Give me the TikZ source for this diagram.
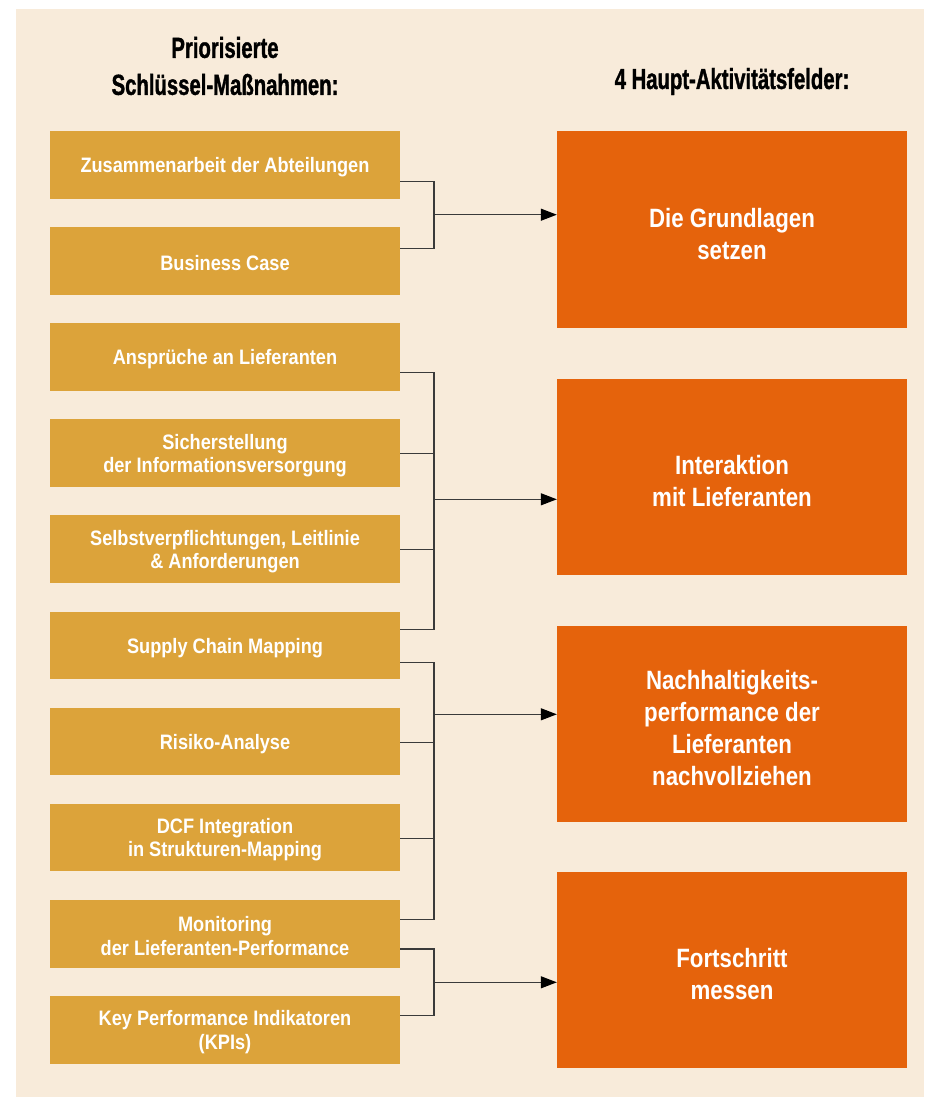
\documentclass[tikz,border=0pt]{standalone}
\usepackage{fontspec}
\setmainfont{Liberation Sans}
\newfontfamily\boxfont[FakeStretch=0.87]{Liberation Sans}
\newfontfamily\orfont[FakeStretch=0.84]{Liberation Sans}
\newfontfamily\titlefont[FakeStretch=0.70,FakeBold=1.2]{Liberation Sans}
\usetikzlibrary{arrows.meta}
\definecolor{bgbeige}{HTML}{F8EBDA}
\definecolor{gold}{HTML}{DCA33A}
\definecolor{orng}{HTML}{E5630C}
\definecolor{lnk}{HTML}{3A3A3A}
\newcommand\lstrut{\rule{0pt}{19.8pt}}
\newcommand\ostrut{\rule{0pt}{27.5pt}}
\begin{document}
\begin{tikzpicture}[x=1pt,y=-1pt,
  lbox/.style={fill=gold, minimum width=350pt, minimum height=67.7pt, inner sep=0pt, text=white,
    font={\boxfont\bfseries\fontsize{20.9pt}{23.3pt}\selectfont}, align=center},
  rbox/.style={fill=orng, minimum width=350pt, minimum height=196pt, inner sep=0pt, text=white,
    font={\orfont\bfseries\fontsize{26.5pt}{32pt}\selectfont}, align=center},
  title/.style={font={\titlefont\bfseries\fontsize{29pt}{37pt}\selectfont}, align=center, inner sep=0pt},
  link/.style={draw=lnk, line width=1.2pt},
  arr/.style={link, -{Triangle[length=16pt,width=12pt,color=black]}}
]
\useasboundingbox (0,0) rectangle (924,1097);
\fill[white] (0,0) rectangle (924,1097);
\fill[bgbeige] (15.5,9) rectangle (924,1097);

% titles
\node[title] (t1) at (225,66) {Priorisierte\\Schlüssel-Maßnahmen:};
\node[title, anchor=base] (t2) at (732,89) {4 Haupt-Aktivitätsfelder:};

% left boxes
\node[lbox] (l1) at (225,164.85) {\lstrut Zusammenarbeit der Abteilungen};
\node[lbox] (l2) at (225,260.95) {\lstrut Business Case};
\node[lbox] (l3) at (225,357.05) {\lstrut Ansprüche an Lieferanten};
\node[lbox] (l4) at (225,453.15) {\lstrut Sicherstellung\\der Informationsversorgung};
\node[lbox] (l5) at (225,549.25) {\lstrut Selbstverpflichtungen, Leitlinie\\\& Anforderungen};
\node[lbox] (l6) at (225,645.35) {\lstrut Supply Chain Mapping};
\node[lbox] (l7) at (225,741.45) {\lstrut Risiko-Analyse};
\node[lbox] (l8) at (225,837.55) {\lstrut DCF Integration\\in Strukturen-Mapping};
\node[lbox] (l9) at (225,933.65) {\lstrut Monitoring\\der Lieferanten-Performance};
\node[lbox] (l10) at (225,1029.75) {\lstrut Key Performance Indikatoren\\(KPIs)};

% right boxes
\node[rbox] (r1) at (732,229.5) {\ostrut Die Grundlagen\\setzen};
\node[rbox] (r2) at (732,477) {\ostrut Interaktion\\mit Lieferanten};
\node[rbox] (r3) at (732,723.5) {\ostrut Nachhaltigkeits-\\performance der\\Lieferanten\\nachvollziehen};
\node[rbox] (r4) at (732,969.5) {\ostrut Fortschritt\\messen};

% bracket 1
\coordinate (a1) at (434,181.7);
\coordinate (b1) at (434,248.3);
\coordinate (m1) at (434,214.7);
\draw[link] (a1 -| l1.east) -- (a1) -- (b1) -- (b1 -| l2.east);
\draw[arr] (m1) -- (m1 -| r1.west);

% bracket 2
\coordinate (a2) at (434,372.7);
\coordinate (b2) at (434,629.3);
\coordinate (m2) at (434,499.3);
\coordinate (s4) at (434,453.1);
\coordinate (s5) at (434,549.3);
\draw[link] (a2 -| l3.east) -- (a2) -- (b2) -- (b2 -| l6.east);
\draw[link] (s4 -| l4.east) -- (s4);
\draw[link] (s5 -| l5.east) -- (s5);
\draw[arr] (m2) -- (m2 -| r2.west);

% bracket 3
\coordinate (a3) at (434,662.3);
\coordinate (b3) at (434,919.3);
\coordinate (m3) at (434,714.3);
\coordinate (s7) at (434,742.3);
\coordinate (s8) at (434,838.3);
\draw[link] (a3 -| l6.east) -- (a3) -- (b3) -- (b3 -| l9.east);
\draw[link] (s7 -| l7.east) -- (s7);
\draw[link] (s8 -| l8.east) -- (s8);
\draw[arr] (m3) -- (m3 -| r3.west);

% bracket 4
\coordinate (a4) at (434,949);
\coordinate (b4) at (434,1015.7);
\coordinate (m4) at (434,982.3);
\draw[link] (a4 -| l9.east) -- (a4) -- (b4) -- (b4 -| l10.east);
\draw[arr] (m4) -- (m4 -| r4.west);
\end{tikzpicture}
\end{document}
